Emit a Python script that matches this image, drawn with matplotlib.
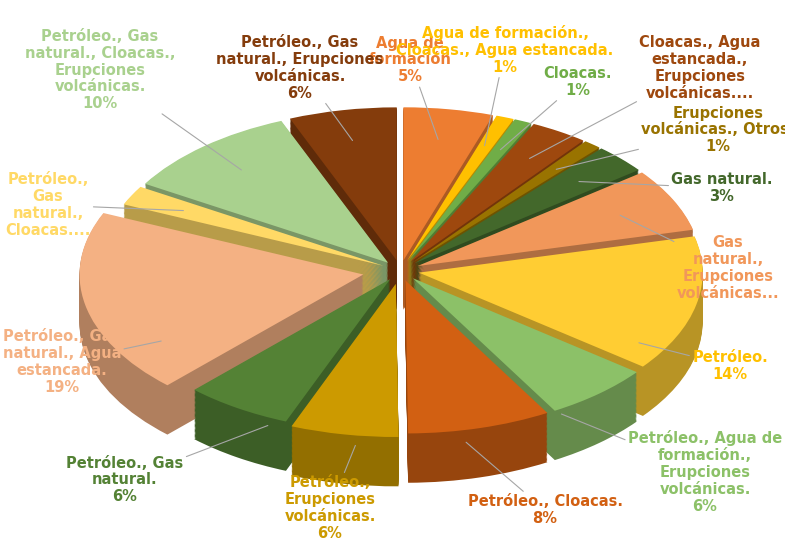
import numpy as np
import matplotlib
matplotlib.use('Agg')
import matplotlib.pyplot as plt
from matplotlib.colors import to_rgb

plt.rcParams['font.family'] = ['Liberation Sans Narrow', 'DejaVu Sans']

labels = ['Agua de\nformación', 'Agua de formación.,\nCloacas., Agua estancada.', 'Cloacas.',
          'Cloacas., Agua\nestancada.,\nErupciones\nvolcánicas....', 'Erupciones\nvolcánicas., Otros:',
          'Gas natural.', 'Gas\nnatural.,\nErupciones\nvolcánicas...', 'Petróleo.',
          'Petróleo., Agua de\nformación.,\nErupciones\nvolcánicas.', 'Petróleo., Cloacas.',
          'Petróleo.,\nErupciones\nvolcánicas.', 'Petróleo., Gas\nnatural.',
          'Petróleo., Gas\nnatural., Agua\nestancada.', 'Petróleo.,\nGas\nnatural.,\nCloacas....',
          'Petróleo., Gas\nnatural., Cloacas.,\nErupciones\nvolcánicas.', 'Petróleo., Gas\nnatural., Erupciones\nvolcánicas.']
values = [5, 1, 1, 3.2, 1, 3, 6.5, 14, 6, 8, 6, 6, 19, 2, 10, 6]
pct = ['5%', '1%', '1%', '', '1%', '3%', '', '14%', '6%', '8%', '6%', '6%', '19%', '', '10%', '6%']
colors = ['#ED7D31', '#FFC000', '#70AD47', '#9E480E', '#997300', '#43682B', '#F1975A', '#FFCD33',
          '#8CC168', '#D26012', '#CC9A00', '#548235', '#F4B183', '#FFD966', '#A9D18E', '#843C0C']
text_col = ['#ED7D31', '#FFC000', '#70AD47', '#9E480E', '#997300', '#43682B', '#F1975A', '#FFC000',
            '#8CC168', '#D26012', '#CC9A00', '#548235', '#F4B183', '#FFD966', '#A9D18E', '#843C0C']
# label centres in pixels from the top-left
lab_px = [(410, 60), (505, 50), (578, 82), (700, 68), (718, 130), (722, 188), (728, 268), (730, 366),
          (705, 472), (545, 510), (330, 508), (125, 480), (62, 362), (48, 205), (100, 70), (300, 68)]

W, H = 785, 558
fig = plt.figure(figsize=(W / 100, H / 100), dpi=100)
ax = fig.add_axes([0, 0, 1, 1])
R = 0.9
explode = [0.06] * len(values)
explode[12] = 0.12
explode[10] = 0.08

depth = 0.29
dark = [tuple(np.array(to_rgb(c)) * 0.72) for c in colors]
for d in np.linspace(depth, 0.005, 40):
    ax.pie(values, colors=dark, startangle=90, counterclock=False, explode=explode, radius=R,
           center=(0, -d), wedgeprops=dict(linewidth=0))
ax.pie(values, colors=colors, startangle=90, counterclock=False, explode=explode, radius=R,
       center=(0, 0), wedgeprops=dict(linewidth=0))

ax.set_aspect('auto')
ax.set_xlim(-1.27, 1.22)
ax.set_ylim(-1.69, 1.59)

total = sum(values)
start = 90.0
for i, v in enumerate(values):
    mid = np.deg2rad(start - 360 * v / total / 2)
    start -= 360 * v / total
    x0, y0 = 0.85 * R * np.cos(mid), 0.85 * R * np.sin(mid)
    if np.sin(mid) < 0:
        y0 -= depth * 0.9
    txt = labels[i] + ('\n' + pct[i] if pct[i] else '')
    px, py = lab_px[i]
    ax.annotate(txt, xy=(x0, y0), xytext=(px, H - py), textcoords='figure pixels',
                ha='center', va='center', fontsize=10.5, fontweight='bold', color=text_col[i],
                linespacing=1.15,
                arrowprops=dict(arrowstyle='-', color='#A6A6A6', lw=0.8, shrinkA=0))

fig.savefig('out.png', dpi=100)
